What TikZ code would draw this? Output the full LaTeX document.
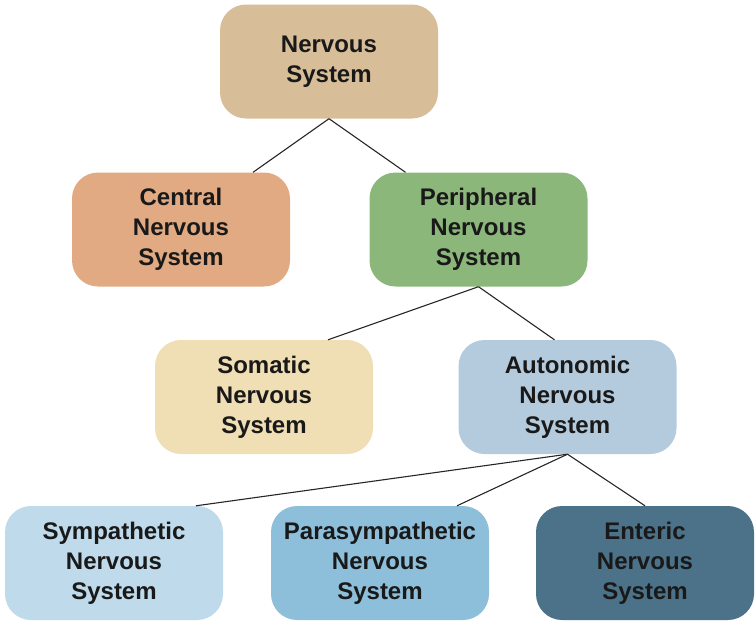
\documentclass[tikz,border=0pt]{standalone}
\usepackage{fontspec}
\setmainfont{Liberation Sans}
\newcommand{\nsys}[1]{#1\\Nervous\\System}
\definecolor{nsfill}{RGB}{216,190,152}
\definecolor{cnsfill}{RGB}{225,170,130}
\definecolor{pnsfill}{RGB}{140,183,122}
\definecolor{somfill}{RGB}{240,222,180}
\definecolor{autfill}{RGB}{180,203,221}
\definecolor{symfill}{RGB}{190,218,235}
\definecolor{parfill}{RGB}{141,190,218}
\definecolor{entfill}{RGB}{75,114,136}

\begin{document}
\begin{tikzpicture}[
      x=1pt, y=-1pt,
      every node/.style={inner sep=0pt, font=\bfseries\fontsize{24}{30}\selectfont, text=black!90},
      box/.style={rounded corners=26pt, minimum width=218pt, minimum height=114pt, align=center},
      link/.style={line width=1.1pt, black!85}
    ]
  \useasboundingbox (0,0) rectangle (756,622);
  \node[box, fill=nsfill] (ns) at (329,61.5) {Nervous\\System};
  \node[box, fill=cnsfill] (cns) at (181,229.5) {\nsys{Central}};
  \node[box, fill=pnsfill] (pns) at (478.5,229.5) {\nsys{Peripheral}};
  \node[box, fill=somfill] (som) at (264,397) {\nsys{Somatic}};
  \node[box, fill=autfill] (aut) at (567.5,397) {\nsys{Autonomic}};
  \node[box, fill=symfill] (sym) at (114,563) {\nsys{Sympathetic}};
  \node[box, fill=parfill] (par) at (380,563) {\nsys{Parasympathetic}};
  \node[box, fill=entfill] (ent) at (645,563) {\nsys{Enteric}};

  \draw[link] (ns.south) -- ([xshift=72pt]cns.north);
  \draw[link] (ns.south) -- ([xshift=-73pt]pns.north);
  \draw[link] (pns.south) -- ([xshift=64pt]som.north);
  \draw[link] (pns.south) -- ([xshift=-13pt]aut.north);
  \draw[link] (aut.south) -- ([xshift=82pt]sym.north);
  \draw[link] (aut.south) -- ([xshift=77pt]par.north);
  \draw[link] (aut.south) -- (ent.north);
\end{tikzpicture}
\end{document}
